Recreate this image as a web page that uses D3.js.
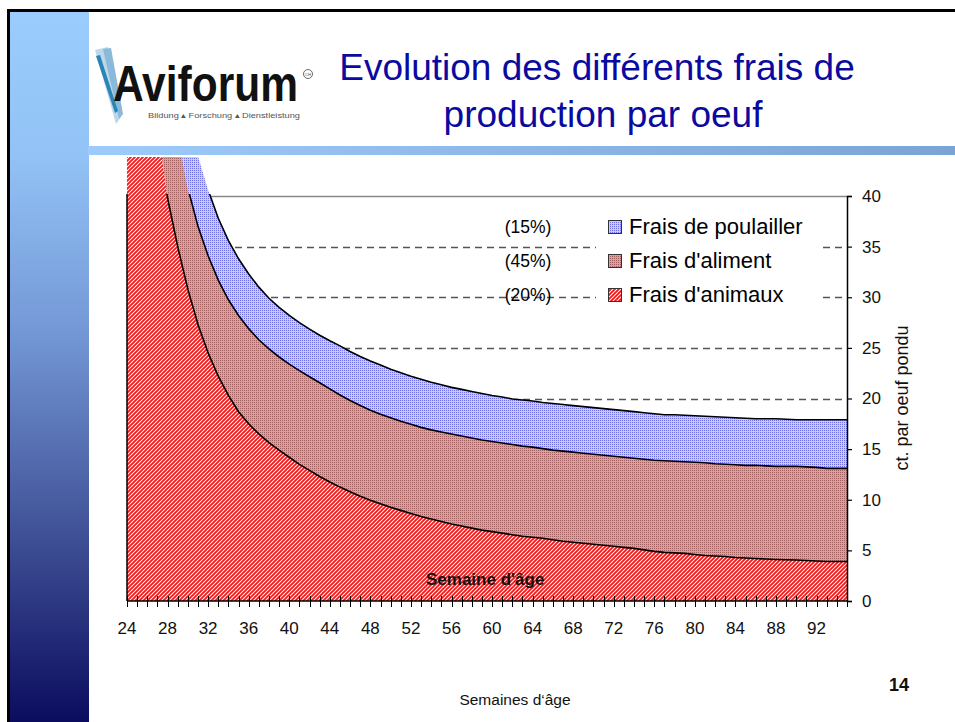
<!DOCTYPE html>
<html lang="fr">
<head>
<meta charset="UTF-8">
<title>Evolution des différents frais de production par oeuf</title>
<script src="https://d3js.org/d3.v7.min.js"></script>
<style>
  body { margin: 0; background: #fff; overflow: hidden; }
  svg { display: block; font-family: "Liberation Sans", Arial, sans-serif; }
</style>
</head>
<body>
<script>
// weeks of age (categories)
const weeks = d3.range(24, 96);

// cost per egg laid, ct. (stacked)
const fraisAnimaux = [
  80, 65, 55, 47, 39.8, 35, 30.8, 27.3,
  24.5, 22.2, 20.3, 18.7, 17.5, 16.5, 15.65, 14.9,
  14.2, 13.5, 12.9, 12.3, 11.75, 11.25, 10.8, 10.35,
  9.95, 9.6, 9.25, 8.95, 8.65, 8.35, 8.1, 7.85,
  7.6, 7.4, 7.2, 7.0, 6.85, 6.7, 6.55, 6.4,
  6.3, 6.2, 6.05, 5.9, 5.8, 5.7, 5.6, 5.5,
  5.4, 5.3, 5.2, 5.05, 4.9, 4.8, 4.75, 4.7,
  4.6, 4.5, 4.45, 4.4, 4.3, 4.25, 4.2, 4.15,
  4.1, 4.07, 4.05, 4.0, 3.95, 3.9, 3.9, 3.9
];
const fraisAliment = [
  30, 25, 20, 15, 12.2, 11, 10.0, 9.7,
  9.6, 9.5, 9.45, 9.5, 9.4, 9.3, 9.25, 9.2,
  9.2, 9.25, 9.25, 9.25, 9.2, 9.1, 9.0, 8.95,
  8.9, 8.85, 8.85, 8.8, 8.8, 8.8, 8.8, 8.85,
  8.9, 8.9, 8.9, 8.9, 8.9, 8.9, 8.9, 8.9,
  8.9, 8.85, 8.85, 8.9, 8.9, 8.9, 8.9, 8.9,
  8.9, 8.9, 8.9, 8.95, 9.0, 9.05, 9.05, 9.05,
  9.1, 9.15, 9.1, 9.1, 9.15, 9.15, 9.2, 9.2,
  9.2, 9.23, 9.25, 9.25, 9.25, 9.2, 9.2, 9.2
];
const fraisPoulailler = [
  40, 30, 25, 18, 14, 10, 8.2, 6.9,
  6.5, 6.1, 5.85, 5.6, 5.4, 5.2, 5.0, 4.9,
  4.8, 4.75, 4.7, 4.7, 4.75, 4.85, 4.85, 4.85,
  4.85, 4.85, 4.8, 4.8, 4.75, 4.75, 4.7, 4.65,
  4.6, 4.6, 4.6, 4.6, 4.55, 4.55, 4.5, 4.55,
  4.55, 4.55, 4.6, 4.6, 4.6, 4.6, 4.6, 4.6,
  4.6, 4.6, 4.6, 4.6, 4.6, 4.55, 4.6, 4.6,
  4.6, 4.6, 4.65, 4.65, 4.65, 4.65, 4.6, 4.65,
  4.7, 4.65, 4.6, 4.65, 4.7, 4.8, 4.8, 4.8
];

const seriesKeys = ["animaux", "aliment", "poulailler"];
const legendLabels = ["Frais de poulailler", "Frais d'aliment", "Frais d'animaux"];
const shareLabels = ["(15%)", "(45%)", "(20%)"];
const yTicks = [0, 5, 10, 15, 20, 25, 30, 35, 40];
const xLabelTicks = d3.range(24, 93, 4);

const W = 955, H = 722;
const svg = d3.select("body").append("svg").attr("width", W).attr("height", H);
const defs = svg.append("defs");

// slide background
const side = defs.append("linearGradient").attr("id", "side").attr("x1", 0).attr("x2", 0).attr("y1", 0).attr("y2", 1);
[[0, "#9accfd"], [0.2, "#93c3f6"], [0.45, "#7498d6"], [0.72, "#43559a"], [1, "#0b0c5e"]]
  .forEach(([o, c]) => side.append("stop").attr("offset", o).attr("stop-color", c));
const band = defs.append("linearGradient").attr("id", "band");
[[0, "#9dcbfb"], [1, "#7aa4d6"]].forEach(([o, c]) => band.append("stop").attr("offset", o).attr("stop-color", c));

svg.append("rect").attr("x", 9).attr("y", 10).attr("width", 80).attr("height", H - 10).attr("fill", "url(#side)");
svg.append("rect").attr("x", 88).attr("y", 146).attr("width", W - 88).attr("height", 9).attr("fill", "url(#band)");
svg.append("path").attr("d", `M8.5,${H} V10.5 H${W}`).attr("fill", "none").attr("stroke", "#000").attr("stroke-width", 3);

// fill patterns
const pRed = defs.append("pattern").attr("id", "pRed").attr("patternUnits", "userSpaceOnUse").attr("width", 4).attr("height", 4);
pRed.append("rect").attr("width", 4).attr("height", 4).attr("fill", "#fff");
pRed.append("path").attr("d", "M-1,1 l2,-2 M0,4 l4,-4 M3,5 l2,-2").attr("stroke", "#f01818").attr("stroke-width", 1.9);

const pBrown = defs.append("pattern").attr("id", "pBrown").attr("patternUnits", "userSpaceOnUse").attr("width", 2).attr("height", 2);
pBrown.append("rect").attr("width", 2).attr("height", 2).attr("fill", "#d3a2a2");
pBrown.append("rect").attr("width", 1).attr("height", 1).attr("fill", "#a05e5e");

const pBlue = defs.append("pattern").attr("id", "pBlue").attr("patternUnits", "userSpaceOnUse").attr("width", 2).attr("height", 2);
pBlue.append("rect").attr("width", 2).attr("height", 2).attr("fill", "#cacaff");
pBlue.append("rect").attr("width", 1).attr("height", 1).attr("fill", "#6e6ee6");

const fills = { animaux: "url(#pRed)", aliment: "url(#pBrown)", poulailler: "url(#pBlue)" };

// logo
const logo = svg.append("g");
logo.append("polygon").attr("points", "95,50 108,47 121,117 116,124").attr("fill", "#bcd6ea");
logo.append("polygon").attr("points", "103,49 111,48 123,114 119,119").attr("fill", "#8bb9da");
logo.append("polygon").attr("points", "96,56 100,55 118,111 115,113").attr("fill", "#2a84b6");
logo.append("text").attr("transform", "translate(113,101) scale(1,1.18)").attr("font-size", 42.5).attr("font-weight", "bold")
  .attr("fill", "#111").text("Aviforum");
logo.append("circle").attr("cx", 308).attr("cy", 74).attr("r", 4.5).attr("fill", "none").attr("stroke", "#444").attr("stroke-width", 0.8);
logo.append("text").attr("x", 308).attr("y", 75.5).attr("text-anchor", "middle").attr("font-size", 4).attr("fill", "#444").text("CH");
logo.append("text").attr("x", 148).attr("y", 118).attr("font-size", 8).attr("fill", "#555")
  .attr("textLength", 152).attr("lengthAdjust", "spacingAndGlyphs").text("Bildung \u25B4 Forschung \u25B4 Dienstleistung");

// title
const title = svg.append("text").attr("text-anchor", "middle").attr("font-size", 37).attr("fill", "#0a0aa0");
title.append("tspan").attr("x", 597).attr("y", 80).text("Evolution des différents frais de");
title.append("tspan").attr("x", 603).attr("y", 127).text("production par oeuf");

// scales
const x = d3.scaleLinear().domain([24, 95]).range([127, 847]);
const y = d3.scaleLinear().domain([0, 40]).range([601, 196]);

// gridlines
const grid = svg.append("g");
grid.selectAll("line").data(yTicks.filter(d => d > 0)).join("line")
  .attr("x1", x(24)).attr("x2", x(95)).attr("y1", d => Math.round(y(d)) + 0.5).attr("y2", d => Math.round(y(d)) + 0.5)
  .attr("stroke", d => d === 40 ? "#888" : "#555")
  .attr("stroke-width", 1.5)
  .attr("stroke-dasharray", d => d === 40 ? null : "7,5");

// stacked areas
const table = weeks.map((w, i) => ({ week: w, animaux: fraisAnimaux[i], aliment: fraisAliment[i], poulailler: fraisPoulailler[i] }));
const stacked = d3.stack().keys(seriesKeys)(table);

defs.append("clipPath").attr("id", "clipFill").append("rect")
  .attr("x", x(24)).attr("y", 157).attr("width", x(95) - x(24)).attr("height", y(0) - 157);
defs.append("clipPath").attr("id", "clipLine").append("rect")
  .attr("x", x(24)).attr("y", y(40) - 2).attr("width", x(95) - x(24) + 1).attr("height", y(0) - y(40) + 2);

const area = d3.area().x(d => x(d.data.week)).y0(d => y(d[0])).y1(d => y(d[1]));
const topLine = d3.line().x(d => x(d.data.week)).y(d => y(d[1]));

svg.append("g").attr("clip-path", "url(#clipFill)")
  .selectAll("path").data(stacked).join("path")
  .attr("d", area).attr("fill", d => fills[d.key]);

svg.append("g").attr("clip-path", "url(#clipLine)")
  .selectAll("path").data(stacked).join("path")
  .attr("d", topLine).attr("fill", "none").attr("stroke", "#000").attr("stroke-width", 1.6);

// left edge of plot
svg.append("line").attr("x1", x(24)).attr("x2", x(24)).attr("y1", y(40) - 2).attr("y2", y(0))
  .attr("stroke", "#000").attr("stroke-width", 1.5);

// legend
const legend = svg.append("g");
legend.append("rect").attr("x", 596).attr("y", 205).attr("width", 222).attr("height", 107).attr("fill", "#fff");
const legendKeys = ["poulailler", "aliment", "animaux"];
legendKeys.forEach((k, i) => {
  const yy = 220 + i * 34;
  legend.append("rect").attr("x", 608.5).attr("y", yy + 0.5).attr("width", 13).attr("height", 13)
    .attr("fill", fills[k]).attr("stroke", "#333").attr("stroke-width", 1);
  legend.append("text").attr("x", 629).attr("y", yy + 14).attr("font-size", 22).attr("fill", "#000").text(legendLabels[i]);
  svg.append("text").attr("x", 528).attr("y", yy + 13).attr("text-anchor", "middle").attr("font-size", 17.5)
    .attr("fill", "#000").text(shareLabels[i]);
});

// x axis
const xAxis = svg.append("g");
xAxis.append("line").attr("x1", x(24)).attr("x2", x(95)).attr("y1", y(0)).attr("y2", y(0)).attr("stroke", "#000").attr("stroke-width", 1.5);
xAxis.selectAll("line.tick").data(weeks).join("line").attr("class", "tick")
  .attr("x1", d => Math.round(x(d)) + 0.5).attr("x2", d => Math.round(x(d)) + 0.5)
  .attr("y1", y(0) - 5).attr("y2", y(0) + 6).attr("stroke", "#000").attr("stroke-width", 1);
xAxis.selectAll("text").data(xLabelTicks).join("text")
  .attr("x", d => x(d)).attr("y", 634).attr("text-anchor", "middle").attr("font-size", 17).attr("fill", "#111").text(d => d);

// y axis on the right
const yAxis = svg.append("g").attr("transform", `translate(${x(95)},0)`)
  .call(d3.axisRight(y).tickValues(yTicks).tickSize(5).tickPadding(10));
yAxis.select(".domain").attr("stroke", "#000").attr("stroke-width", 1.5);
yAxis.selectAll(".tick line").attr("stroke", "#000").attr("stroke-width", 1.2);
yAxis.selectAll(".tick text").attr("font-size", 17).attr("fill", "#111").attr("font-family", "Liberation Sans, Arial, sans-serif");

svg.append("text").attr("transform", `translate(908,398) rotate(-90)`).attr("text-anchor", "middle")
  .attr("font-size", 18).attr("fill", "#111").text("ct. par oeuf pondu");

// in-chart axis title
svg.append("text").attr("x", 426).attr("y", 585).attr("font-size", 17).attr("font-weight", "bold").attr("fill", "#111")
  .text("Semaine d'âge");

// footer
svg.append("text").attr("x", 515).attr("y", 705).attr("text-anchor", "middle").attr("font-size", 15.5).attr("fill", "#111")
  .text("Semaines d\u2018âge");
svg.append("text").attr("x", 899).attr("y", 691).attr("text-anchor", "middle").attr("font-size", 18).attr("font-weight", "bold")
  .attr("fill", "#111").text("14");
</script>
</body>
</html>
